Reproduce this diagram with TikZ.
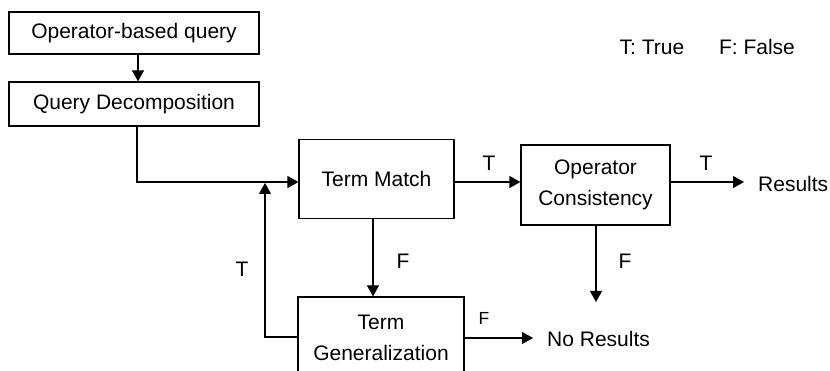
\documentclass[tikz,border=0pt]{standalone}
\usepackage{fontspec}
\setmainfont{Liberation Sans}
\usetikzlibrary{arrows.meta}
\begin{document}
\begin{tikzpicture}[x=1pt,y=-1pt,
  every node/.style={font=\fontsize{21}{31}\selectfont, inner sep=0pt},
  box/.style={draw, line width=1.2pt, align=center},
  lbl/.style={font=\fontsize{21}{25}\selectfont},
  slbl/.style={font=\fontsize{17.5}{21}\selectfont},
  arr/.style={line width=1.2pt, -{Triangle[length=11pt,width=12pt]}},
  ln/.style={line width=1.2pt}]
\useasboundingbox (0,0) rectangle (830,371);
\node[box, minimum width=250pt, minimum height=42pt] (oq) at (134,33) {Operator-based query};
\node[box, minimum width=250pt, minimum height=44pt] (qd) at (134,104) {Query Decomposition};
\node[box, minimum width=155pt, minimum height=79pt] (tm) at (376.5,179) {Term Match};
\node[box, minimum width=149pt, minimum height=80pt] (oc) at (595.5,185) {Operator\\Consistency};
\node[box, minimum width=166pt, minimum height=82pt] (tg) at (381,338) {Term\\Generalization};
\node[anchor=west] (res) at (758,184) {Results};
\node[anchor=west] (nores) at (547,339) {No Results};
\node (leg1) at (652,47) {T: True};
\node (leg2) at (757,47) {F: False};
\coordinate (fb) at (265,183);
\coordinate (ocend) at (596,302);
\draw[arr] (oq.south -| 138,0) -- (qd.north -| 138,0);
\draw[arr] (qd.south -| 137,0) |- (tm.west |- 0,182);
\draw[arr] (tm.east |- 0,182) -- (oc.west |- 0,182);
\draw[arr] (oc.east |- 0,182) -- ([xshift=-14pt]res.west |- 0,182);
\draw[arr] (tm.south -| 373,0) -- (tg.north -| 373,0);
\draw[arr] (oc.south -| ocend) -- (ocend);
\draw[arr] (tg.west |- 0,337) -| (fb);
\draw[arr] (tg.east |- 0,338) -- ([xshift=-14pt]nores.west |- 0,338);
\node[lbl] (t1) at (489,163) {T};
\node[lbl] (t2) at (706,163) {T};
\node[lbl] (t3) at (242,269) {T};
\node[lbl] (f1) at (403,261) {F};
\node[lbl] (f2) at (625,261) {F};
\node[slbl] (f3) at (484,318) {F};
\end{tikzpicture}
\end{document}
